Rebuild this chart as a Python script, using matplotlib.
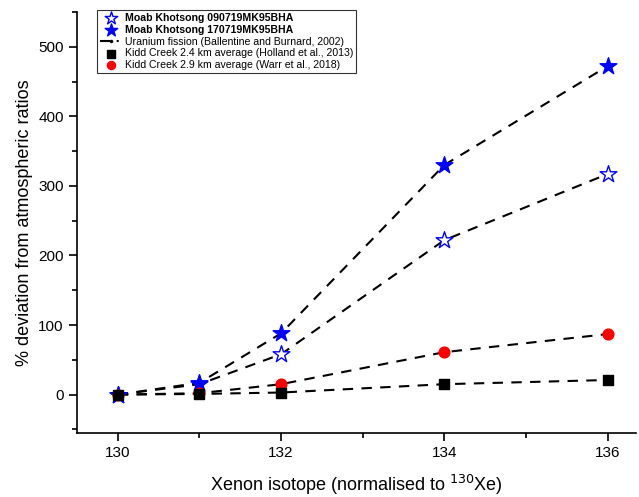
import numpy as np
import matplotlib.pyplot as plt

plt.rcParams['font.family'] = ['Liberation Sans', 'DejaVu Sans']

isotopes = [130, 131, 132, 134, 136]

moab_0907 = [0, 15, 58, 222, 317]
moab_1707 = [0, 17, 88, 330, 472]
kidd_24 = [0, 1, 3, 15, 21]
kidd_29 = [0, 2, 15, 61, 87]

fig = plt.figure(figsize=(6.39, 4.97), dpi=100)
ax = fig.add_axes([0.1205, 0.129, 0.875, 0.847])

# fission curves through each data set
for ys in (moab_0907, moab_1707, kidd_24, kidd_29):
    ax.plot(isotopes, ys, color='black', ls=(0, (5, 4)), lw=1.5, zorder=1)

fission, = ax.plot([], [], color='black', ls=(0, (5, 3, 1, 3)), lw=1.5,
                   marker='o', markersize=2, label='Uranium fission (Ballentine and Burnard, 2002)')

s1 = ax.scatter(isotopes, moab_0907, marker='*', s=160, facecolors='white',
                edgecolors='blue', linewidths=1.0, zorder=3,
                label='Moab Khotsong 090719MK95BHA')
s2 = ax.scatter(isotopes, moab_1707, marker='*', s=160, color='blue', zorder=3,
                label='Moab Khotsong 170719MK95BHA')
s4 = ax.scatter(isotopes, kidd_29, marker='o', s=60, color='red', zorder=4,
                label='Kidd Creek 2.9 km average (Warr et al., 2018)')
s3 = ax.scatter(isotopes, kidd_24, marker='s', s=55, color='black', zorder=5,
                label='Kidd Creek 2.4 km average (Holland et al., 2013)')

ax.set_xlim(129.5, 136.35)
ax.set_ylim(-55, 550)
ax.set_xticks([130, 132, 134, 136])
ax.set_xticks([131, 133, 135], minor=True)
ax.set_yticks([0, 100, 200, 300, 400, 500])
ax.set_yticks(np.arange(-50, 551, 50), minor=True)

for side in ('top', 'right'):
    ax.spines[side].set_visible(False)
ax.spines['left'].set_linewidth(1.2)
ax.spines['bottom'].set_linewidth(1.2)
ax.tick_params(which='major', direction='out', length=6, width=1.2, labelsize=11)
ax.tick_params(which='minor', direction='out', length=3.5, width=1.2)

ax.set_xlabel('Xenon isotope (normalised to $^{130}$Xe)', fontsize=13, labelpad=9)
ax.set_ylabel('% deviation from atmospheric ratios', fontsize=13)

leg = ax.legend(handles=[s1, s2, fission, s3, s4], loc='upper left',
                bbox_to_anchor=(0.036, 1.005), fontsize=7.6, frameon=True,
                fancybox=False, edgecolor='black', borderpad=0.3,
                labelspacing=0.17, handlelength=2.0, handletextpad=0.3,
                borderaxespad=0, markerscale=0.75)
leg.get_frame().set_linewidth(0.8)
for t in leg.get_texts()[:2]:
    t.set_fontweight('bold')

plt.savefig('out.png', dpi=100)
